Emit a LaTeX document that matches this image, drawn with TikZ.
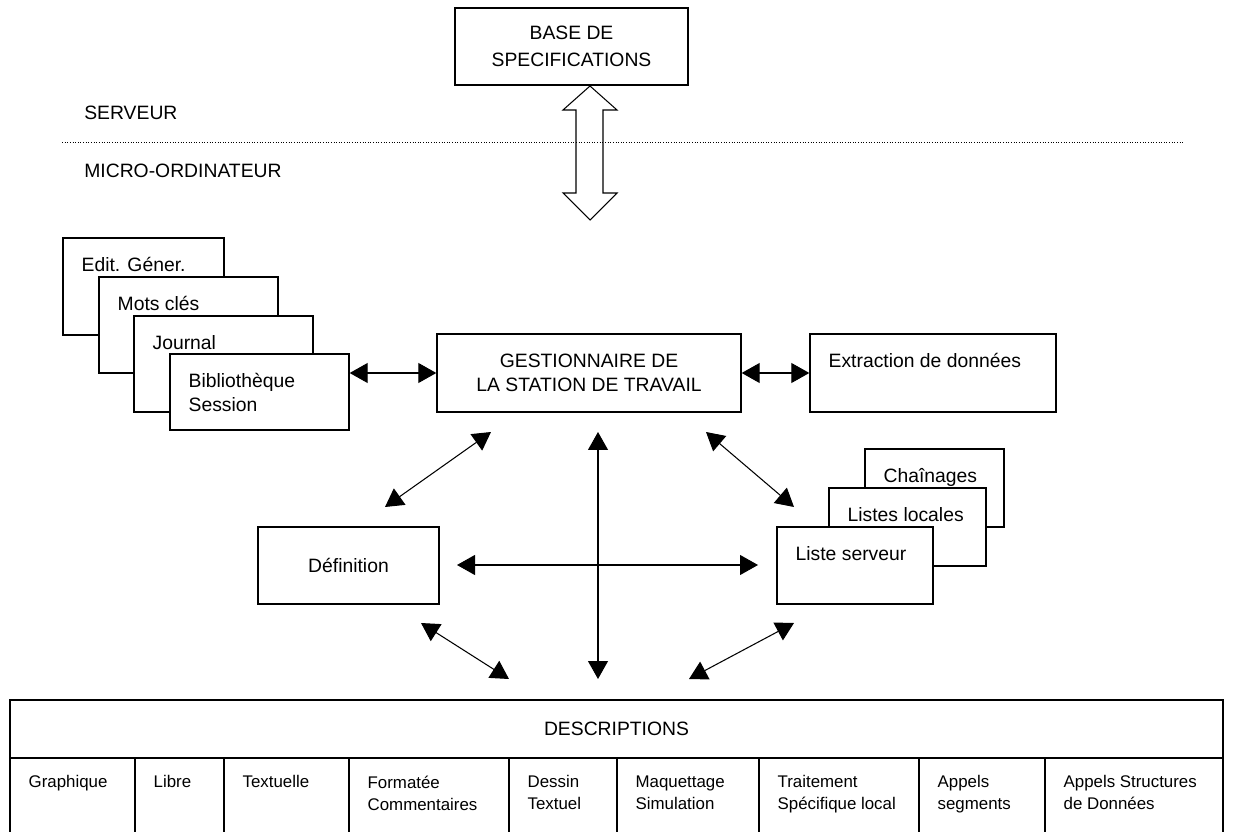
\documentclass[tikz,border=0pt]{standalone}
\usepackage{fontspec}
\setmainfont{Liberation Sans}
\usepackage{tikz}
\usetikzlibrary{positioning,arrows.meta}

\tikzset{
  box/.style={draw, line width=0.8pt, fill=white, inner sep=0pt},
  note/.style={anchor=north west, inner sep=0pt, align=left, xshift=0.38cm, yshift=-0.4cm},
  cellnote/.style={anchor=north west, inner sep=0pt, align=left, xshift=0.38cm, yshift=-0.36cm, font=\fontsize{9.6pt}{12.5pt}\selectfont},
  link/.style={{Triangle[length=3.6mm,width=4mm]}-{Triangle[length=3.6mm,width=4mm]}, line width=0.6pt},
}

\begin{document}
\begin{tikzpicture}[font=\fontsize{11pt}{13.6pt}\selectfont]
    \clip (0,0) rectangle (24.66,-16.64);

    % Serveur / micro-ordinateur
    \node[anchor=west, inner sep=0pt] (serveur) at (1.68,-2.26) {SERVEUR};
    \node[anchor=west, inner sep=0pt] (micro) at (1.68,-3.42) {MICRO-ORDINATEUR};
    \draw[densely dotted, line width=0.5pt] (1.24,-2.84) -- (23.66,-2.84);

    % Base
    \node[box, minimum width=4.66cm, minimum height=1.54cm, align=center, font=\fontsize{11pt}{15.6pt}\selectfont] (base) at (11.43,-0.93) {BASE DE\\SPECIFICATIONS};
    \draw[line width=0.6pt] (11.8,-1.72) -- (12.34,-2.2) -- (12.06,-2.2) -- (12.06,-3.86) -- (12.34,-3.86) -- (11.8,-4.4) -- (11.26,-3.86) -- (11.52,-3.86) -- (11.52,-2.2) -- (11.26,-2.2) -- cycle;

    % Left stack
    \node[box, minimum width=3.22cm, minimum height=1.94cm, label={[note]north west:{Edit. Géner.}}] (edit) at (2.87,-5.73) {};
    \node[box, minimum width=3.58cm, minimum height=1.92cm, label={[note]north west:{Mots clés}}] (mots) at (3.77,-6.5) {};
    \node[box, minimum width=3.58cm, minimum height=1.92cm, label={[note]north west:{Journal}}] (journal) at (4.47,-7.28) {};
    \node[box, minimum width=3.58cm, minimum height=1.52cm, label={[note]north west:{Bibliothèque\\Session}}] (biblio) at (5.19,-7.84) {};

    % Station
    \node[box, minimum width=6.08cm, minimum height=1.56cm, align=center] (gest) at (11.78,-7.46) {GESTIONNAIRE DE\\LA STATION DE TRAVAIL};
    \node[box, minimum width=4.92cm, minimum height=1.56cm, label={[note]north west:{Extraction de données}}] (extr) at (18.66,-7.46) {};
    \node[box, minimum width=3.62cm, minimum height=1.54cm] (defn) at (6.97,-11.31) {Définition};

    % Right stack
    \node[box, minimum width=2.78cm, minimum height=1.56cm, label={[note]north west:{Chaînages}}] (chain) at (18.69,-9.76) {};
    \node[box, minimum width=3.14cm, minimum height=1.56cm, label={[note]north west:{Listes locales}}] (loc) at (18.15,-10.54) {};
    \node[box, minimum width=3.12cm, minimum height=1.54cm, label={[note]north west:{Liste serveur}}] (serv) at (17.1,-11.31) {};

    % Descriptions
    \node[box, minimum width=24.26cm, minimum height=1.16cm] (desc) at (12.33,-14.58) {DESCRIPTIONS};
    \node[box, minimum width=2.5cm, minimum height=2cm, label={[cellnote]north west:{Graphique}}] (graph) at (1.45,-16.16) {};
    \node[box, minimum width=1.78cm, minimum height=2cm, label={[cellnote]north west:{Libre}}] (libre) at (3.59,-16.16) {};
    \node[box, minimum width=2.5cm, minimum height=2cm, label={[cellnote]north west:{Textuelle}}] (textu) at (5.73,-16.16) {};
    \node[box, minimum width=3.2cm, minimum height=2cm, label={[cellnote]north west:{Formatée\\Commentaires}}] (format) at (8.58,-16.16) {};
    \node[box, minimum width=2.16cm, minimum height=2cm, label={[cellnote]north west:{Dessin\\Textuel}}] (dessin) at (11.26,-16.16) {};
    \node[box, minimum width=2.84cm, minimum height=2cm, label={[cellnote]north west:{Maquettage\\Simulation}}] (maquet) at (13.76,-16.16) {};
    \node[box, minimum width=3.2cm, minimum height=2cm, label={[cellnote]north west:{Traitement\\Spécifique local}}] (traite) at (16.78,-16.16) {};
    \node[box, minimum width=2.52cm, minimum height=2cm, label={[cellnote]north west:{Appels\\segments}}] (appseg) at (19.64,-16.16) {};
    \node[box, minimum width=3.56cm, minimum height=2cm, label={[cellnote]north west:{Appels Structures\\de Données}}] (appstr) at (22.68,-16.16) {};

    % Free arrow ends
    \coordinate (gestsw) at (9.82,-8.64);
    \coordinate (defnne) at (7.7,-10.14);
    \coordinate (gestse) at (14.12,-8.64);
    \coordinate (servnw) at (15.88,-10.14);
    \coordinate (gests) at (11.96,-8.64);
    \coordinate (descn) at (11.96,-13.58);
    \coordinate (defne) at (9.14,-11.3);
    \coordinate (servw) at (15.16,-11.3);
    \coordinate (defnse) at (8.42,-12.46);
    \coordinate (descnw) at (10.18,-13.58);
    \coordinate (descne) at (13.78,-13.58);
    \coordinate (servsw) at (15.88,-12.46);

    % Connections
    \draw[link] (biblio.east |- gest.west) -- (gest.west);
    \draw[link] (gest.east) -- (extr.west);
    \draw[link] (defnne) -- (gestsw);
    \draw[link] (gestse) -- (servnw);
    \draw[link] (gests) -- (descn);
    \draw[link] (defne) -- (servw);
    \draw[link] (defnse) -- (descnw);
    \draw[link] (descne) -- (servsw);
\end{tikzpicture}
\end{document}
